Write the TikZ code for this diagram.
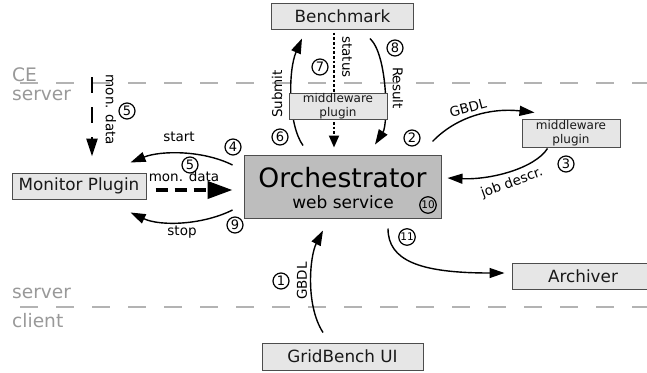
\documentclass[tikz,border=0pt]{standalone}
\usepackage{fontspec}
\setmainfont{DejaVu Sans}
\usetikzlibrary{arrows.meta,calc}
\pgfdeclarelayer{bg}
\pgfdeclarelayer{mid}
\pgfsetlayers{bg,mid,main}
\definecolor{boxfill}{HTML}{E6E6E6}
\definecolor{boxline}{HTML}{4D4D4D}
\definecolor{corefill}{HTML}{BDBDBD}
\definecolor{sepline}{HTML}{B3B3B3}
\definecolor{septext}{HTML}{999999}
\newcommand\fsz[1]{\fontsize{#1}{#1}\selectfont}
\tikzset{
  comp/.style={draw=boxline, fill=boxfill, line width=1pt, inner sep=0pt, text=black!90, font=\fsz{16.8}},
  mwbox/.style={comp, align=center, font=\fontsize{12}{14}\selectfont},
  num/.style={circle, draw, line width=1.2pt, inner sep=0pt, minimum size=16pt, font=\fsz{13}},
  numsm/.style={num, minimum size=16.5pt, font=\fsz{10.5}},
  flow/.style={line width=1.4pt, -{Triangle[length=15pt,width=10pt]}},
  lbl/.style={font=\fsz{13.5}, inner sep=0pt},
  sepdash/.style={sepline, line width=1.5pt, dash pattern=on 18pt off 18pt},
  zone/.style={septext, font=\fsz{18.6}, inner sep=0pt, anchor=base west},
}
\begin{document}
\begin{tikzpicture}[x=1pt,y=-1pt]
\useasboundingbox (0,0) rectangle (647,372);
\clip (0,0) rectangle (647,372);

% components
\node[comp, minimum width=141.6pt, minimum height=26pt] (bench) at (342.5,16) {Benchmark};
\node[mwbox, minimum width=98pt, minimum height=26pt] (mwtop) at (338,106) {middleware\\plugin};
\node[mwbox, minimum width=98pt, minimum height=28pt] (mwright) at (571,133) {middleware\\plugin};
\node[comp, fill=corefill, minimum width=197pt, minimum height=63pt] (orch) at (342.5,186.5) {};
\node[font=\fsz{26.6}, inner sep=0pt, anchor=base] (orchtitle) at (342.5,187) {Orchestrator};
\node[font=\fsz{17}, inner sep=0pt, anchor=base] (orchsub) at (343,208) {web service};
\node[comp, minimum width=134pt, minimum height=26pt] (monitor) at (79,186) {Monitor Plugin};
\node[comp, minimum width=142pt, minimum height=26pt] (archiver) at (583,276) {Archiver};
\node[comp, minimum width=161pt, minimum height=27pt] (gbui) at (342.5,356.5) {GridBench UI};

% zone separators
\begin{pgfonlayer}{bg}
  \draw[sepdash] (20,83) -- (647,83);
  \draw[sepdash] (20,307) -- (647,307);
\end{pgfonlayer}
\node[zone] (zce) at (12,81) {CE};
\node[zone] (zserver) at (12,100) {server};
\node[zone] (zserverb) at (12,298) {server};
\node[zone] (zclient) at (12,327) {client};

% message flows
\coordinate (mdsrc) at (92,77);
\begin{pgfonlayer}{mid}
  % monitoring data arriving at the plugin
  \draw[line width=2.3pt, dash pattern=on 16pt off 14pt, -{Triangle[length=18pt,width=11pt]}]
    (mdsrc) -- ($(monitor.north)+(13,-16)$);
  % start / stop of the monitor plugin
  \draw[flow] ($(orch.west)+(-11,-21.5)$) .. controls +(-30,-15) and +(30,-12) .. ($(monitor.north east)+(-16,-10)$);
  \draw[flow] ($(orch.west)+(-11,23.5)$) .. controls +(-30,15) and +(30,14) .. ($(monitor.south east)+(-16,13)$);
  % monitoring data forwarded to the orchestrator
  \draw[line width=4pt, dash pattern=on 12pt off 7pt, -{Triangle[length=25pt,width=17pt]}]
    ($(monitor.east)+(9,4)$) -- ($(orch.west)+(-11,3.5)$);
  % submit / status / result
  \draw[flow] ($(orch.north)+(-39.5,-9)$) .. controls +(-15,-21) and +(-14,32) .. ($(bench.south)+(-40.5,9)$);
  \draw[line width=2pt, dash pattern=on 2.7pt off 2pt, -{Triangle[length=12pt,width=10pt]}]
    ($(bench.south)+(-8.5,3)$) -- ($(orch.north)+(-8.5,-7)$);
  \draw[flow] ($(bench.south)+(27.5,9)$) .. controls +(18,17) and +(13,-20) .. ($(orch.north)+(32.5,-10)$);
  % GBDL to the right middleware plugin and job description back
  \draw[flow] ($(orch.north east)+(-9,-13)$) .. controls +(23,-24) and +(-45,-5) .. ($(mwright.north west)+(13,-6)$);
  \draw[flow] ($(mwright.south west)+(26,1)$) .. controls +(-13,20) and +(43,2) .. ($(orch.east)+(6,-8.5)$);
  % GBDL from the client
  \draw[flow] ($(gbui.north)+(-19.5,-10)$) .. controls +(-18,-28) and +(-13,25) .. ($(orch.south)+(-19.5,12)$);
  % results to the archiver
  \draw[flow] ($(orch.south)+(45.5,10)$) .. controls +(0,32) and +(-85,0) .. ($(archiver.west)+(-7,-3)$);
\end{pgfonlayer}

% flow labels
\node[lbl, rotate=-90] (lmdv) at (111,110) {mon. data};
\node[lbl] (lstart) at (179,137) {start};
\node[lbl] (lmdh) at (184,176) {mon. data};
\node[lbl] (lstop) at (182,232) {stop};
\node[lbl, rotate=90] (lsubmit) at (277,94) {Submit};
\node[lbl, rotate=-90] (lstatus) at (347,57) {status};
\node[lbl, rotate=-90] (lresult) at (398,88) {Result};
\node[lbl, rotate=15] (lgbdlr) at (468,108) {GBDL};
\node[lbl, rotate=20] (ljob) at (512,183) {job descr.};
\node[lbl, rotate=90] (lgbdlb) at (302,281) {GBDL};

% step numbers
\node[num] (n1) at (281,281) {1};
\node[num] (n2) at (412,138) {2};
\node[num] (n3) at (566,164) {3};
\node[num] (n4) at (233,147) {4};
\node[num] (n5a) at (127,111) {5};
\node[num] (n5b) at (190,165) {5};
\node[num] (n6) at (280,137) {6};
\node[num] (n7) at (320,67) {7};
\node[num] (n8) at (395,48) {8};
\node[num] (n9) at (235,225) {9};
\node[numsm] (n10) at (428,205) {10};
\node[numsm] (n11) at (407,237) {11};
\end{tikzpicture}
\end{document}
